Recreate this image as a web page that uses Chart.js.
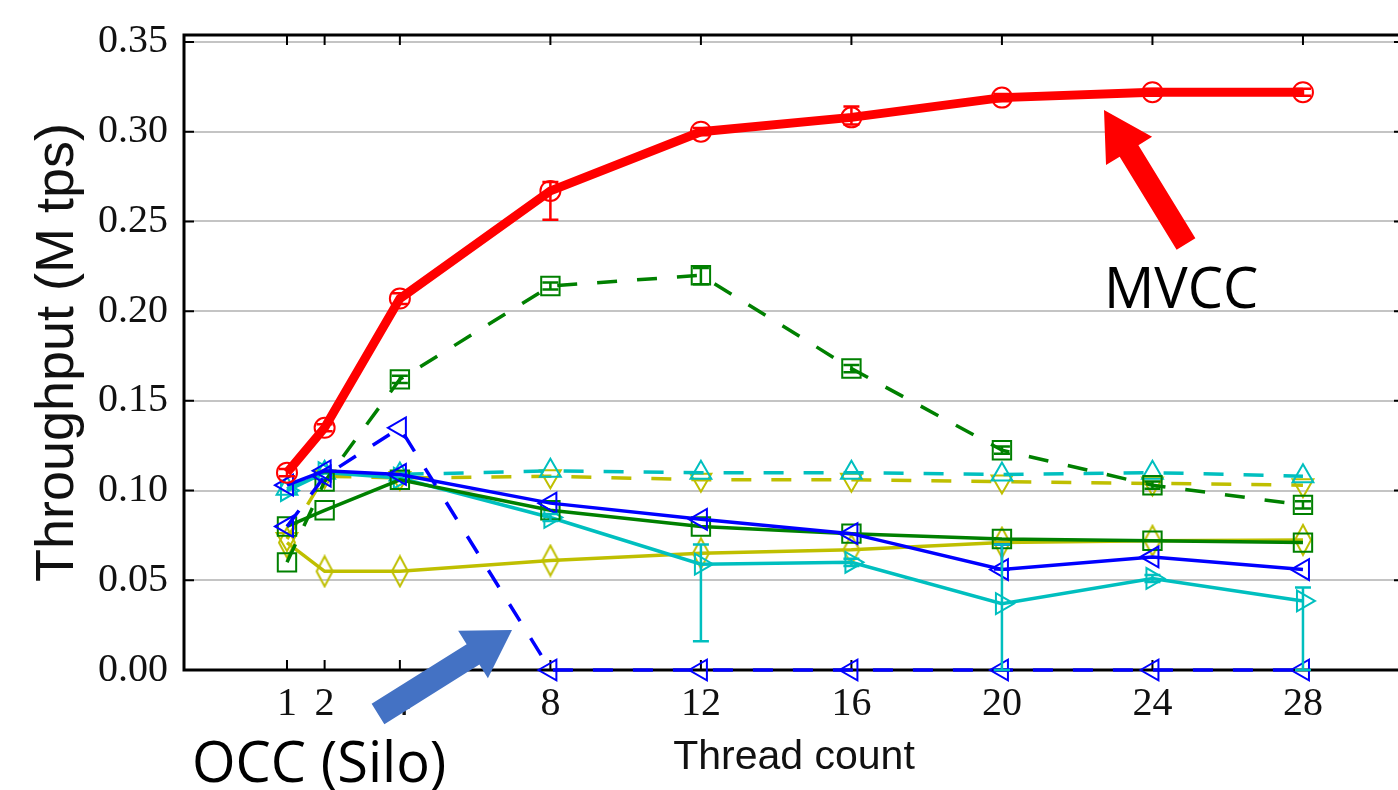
<!DOCTYPE html>
<html>
<head>
<meta charset="utf-8">
<script src="https://cdn.jsdelivr.net/npm/chart.js@4.4.1/dist/chart.umd.min.js"></script>
<style>
  html, body { margin: 0; padding: 0; background: #fff; overflow: hidden; }
  #wrap { width: 1404px; height: 790px; }
</style>
</head>
<body>
<div id="wrap"><canvas id="myChart" width="1404" height="790"></canvas></div>
<script>
// thread counts on the x axis
const threads = [1, 2, 4, 8, 12, 16, 20, 24, 28];
const xTickValues = [1, 2, 4, 8, 12, 16, 20, 24, 28];
const yTickValues = [0, 0.05, 0.10, 0.15, 0.20, 0.25, 0.30, 0.35];

// throughput, M tps
const mvcc        = [0.110, 0.135, 0.207, 0.267, 0.300, 0.308, 0.319, 0.322, 0.322];
const mvccErrLo   = [0.002, 0.002, 0.003, 0.016, 0.002, 0.004, 0.002, 0.002, 0.002];
const mvccErrHi   = [0.002, 0.002, 0.003, 0.005, 0.002, 0.006, 0.002, 0.002, 0.002];
const greenDash   = [0.060, 0.105, 0.162, 0.214, 0.220, 0.168, 0.1225, 0.103, 0.092];
const greenDashLo = [0, 0, 0.002, 0.002, 0.005, 0.002, 0.002, 0.002, 0.002];
const greenDashHi = [0, 0, 0.002, 0.002, 0.004, 0.002, 0.002, 0.002, 0.002];
const greenSolid  = [0.080, 0.089, 0.106, 0.089, 0.080, 0.076, 0.073, 0.072, 0.071];
const blueDash    = [0.080, 0.108, 0.135, 0, 0, 0, 0, 0, 0];
const blueSolid   = [0.103, 0.111, 0.109, 0.093, 0.084, 0.076, 0.056, 0.063, 0.056];
const blueSolidLo = [0, 0, 0, 0, 0, 0, 0, 0, 0];
const blueSolidHi = [0, 0, 0, 0, 0, 0, 0.014, 0, 0];
const cyanDash    = [0.101, 0.110, 0.109, 0.111, 0.110, 0.110, 0.109, 0.110, 0.108];
const cyanSolid   = [0.100, 0.110, 0.107, 0.085, 0.059, 0.060, 0.037, 0.051, 0.0385];
const cyanSolidLo = [0, 0, 0, 0.002, 0.043, 0.002, 0.037, 0.002, 0.0385];
const cyanSolidHi = [0, 0, 0, 0.002, 0.011, 0.002, 0.033, 0.002, 0.0075];
const yellowDash  = [0.073, 0.108, 0.107, 0.108, 0.106, 0.106, 0.105, 0.104, 0.103];
const yellowSolid = [0.071, 0.055, 0.055, 0.061, 0.065, 0.067, 0.071, 0.072, 0.0725];

const RED = '#ff0000', GREEN = '#008000', BLUE = '#0000ff', CYAN = '#00bfbf', YELLOW = '#bfbf00';

// thin diamond marker (matplotlib 'd')
const thinDiamond = document.createElement('canvas');
thinDiamond.width = 20;
thinDiamond.height = 34;
(() => {
  const c = thinDiamond.getContext('2d');
  c.strokeStyle = YELLOW;
  c.lineWidth = 2;
  c.beginPath();
  c.moveTo(10, 2); c.lineTo(18, 17); c.lineTo(10, 32); c.lineTo(2, 17);
  c.closePath();
  c.stroke();
})();

const pts = (ys) => threads.map((x, i) => ({ x: x, y: ys[i] }));

const series = (values, color, opts) => Object.assign({
  data: pts(values),
  borderColor: color,
  backgroundColor: 'transparent',
  pointBorderColor: color,
  pointBackgroundColor: 'transparent',
  pointBorderWidth: 2,
  borderWidth: 3.5,
  tension: 0,
  clip: false
}, opts);

const datasets = [
  series(mvcc, RED, { borderWidth: 9, pointStyle: 'circle', pointRadius: 10, order: 0,
    errLo: mvccErrLo, errHi: mvccErrHi }),
  series(greenDash, GREEN, { borderDash: [20, 20], pointStyle: 'rect', pointRadius: 13, order: 3,
    errLo: greenDashLo, errHi: greenDashHi }),
  series(greenSolid, GREEN, { pointStyle: 'rect', pointRadius: 13, order: 4 }),
  series(blueDash, BLUE, { borderDash: [20, 20], pointStyle: 'triangle', pointRotation: -90, pointRadius: 12, order: 1 }),
  series(blueSolid, BLUE, { pointStyle: 'triangle', pointRotation: -90, pointRadius: 12, order: 2,
    errLo: blueSolidLo, errHi: blueSolidHi }),
  series(cyanDash, CYAN, { borderDash: [20, 20], pointStyle: 'triangle', pointRadius: 12, order: 5 }),
  series(cyanSolid, CYAN, { pointStyle: 'triangle', pointRotation: 90, pointRadius: 12, order: 6,
    errLo: cyanSolidLo, errHi: cyanSolidHi }),
  series(yellowDash, YELLOW, { borderDash: [20, 20], pointStyle: 'triangle', pointRotation: 180, pointRadius: 12, order: 7 }),
  series(yellowSolid, YELLOW, { pointStyle: thinDiamond, pointRadius: 12, order: 8 })
];

// frame, inward ticks, error bars and the two call-outs
const decorations = {
  id: 'decorations',
  beforeDatasetsDraw(chart) {
    const { ctx, chartArea: a, scales } = chart;
    ctx.save();
    ctx.strokeStyle = '#000';
    ctx.lineWidth = 2;
    ctx.beginPath();
    xTickValues.forEach((v) => {
      const px = scales.x.getPixelForValue(v);
      ctx.moveTo(px, a.bottom); ctx.lineTo(px, a.bottom - 10);
      ctx.moveTo(px, a.top); ctx.lineTo(px, a.top + 10);
    });
    yTickValues.forEach((v) => {
      const py = scales.y.getPixelForValue(v);
      ctx.moveTo(a.left, py); ctx.lineTo(a.left + 10, py);
      ctx.moveTo(a.right, py); ctx.lineTo(a.right - 10, py);
    });
    ctx.stroke();
    ctx.lineWidth = 3;
    ctx.strokeRect(a.left, a.top, a.right - a.left, a.bottom - a.top);
    ctx.restore();
  },
  afterDatasetsDraw(chart) {
    const { ctx, scales } = chart;
    ctx.save();
    chart.data.datasets.forEach((ds) => {
      if (!ds.errLo) return;
      ctx.strokeStyle = ds.borderColor;
      ctx.lineWidth = 2.5;
      ds.data.forEach((p, i) => {
        const lo = ds.errLo[i], hi = ds.errHi[i];
        if (!lo && !hi) return;
        const px = scales.x.getPixelForValue(p.x);
        const y1 = scales.y.getPixelForValue(p.y - lo);
        const y2 = scales.y.getPixelForValue(p.y + hi);
        ctx.beginPath();
        ctx.moveTo(px, y1); ctx.lineTo(px, y2);
        ctx.moveTo(px - 8, y1); ctx.lineTo(px + 8, y1);
        ctx.moveTo(px - 8, y2); ctx.lineTo(px + 8, y2);
        ctx.stroke();
      });
    });
    ctx.restore();
  },
  afterDraw(chart) {
    const ctx = chart.ctx;
    const arrow = (x1, y1, x2, y2, shaft, head, headLen, color) => {
      const ang = Math.atan2(y2 - y1, x2 - x1);
      const len = Math.hypot(x2 - x1, y2 - y1);
      ctx.save();
      ctx.translate(x1, y1);
      ctx.rotate(ang);
      ctx.fillStyle = color;
      ctx.beginPath();
      ctx.moveTo(0, -shaft / 2);
      ctx.lineTo(len - headLen, -shaft / 2);
      ctx.lineTo(len - headLen, -head / 2);
      ctx.lineTo(len, 0);
      ctx.lineTo(len - headLen, head / 2);
      ctx.lineTo(len - headLen, shaft / 2);
      ctx.lineTo(0, shaft / 2);
      ctx.closePath();
      ctx.fill();
      ctx.restore();
    };
    arrow(1186, 244, 1104, 110, 22, 54, 48, RED);
    arrow(378, 714, 512, 630, 24, 56, 46, '#4472c4');
    ctx.save();
    ctx.fillStyle = '#000';
    ctx.font = '56px "Open Sans"';
    ctx.textBaseline = 'alphabetic';
    ctx.fillText('MVCC', 1104, 308);
    ctx.fillText('OCC (Silo)', 192, 782);
    ctx.restore();
  }
};

const ctx = document.getElementById('myChart').getContext('2d');
const chart = new Chart(ctx, {
  type: 'line',
  data: { datasets: datasets },
  options: {
    responsive: false,
    animation: false,
    layout: { autoPadding: false, padding: { top: 35, left: 0, right: 0, bottom: 0 } },
    plugins: { legend: { display: false }, tooltip: { enabled: false } },
    scales: {
      x: {
        type: 'linear',
        min: -1.737,
        max: 30.685,
        afterBuildTicks: (scale) => { scale.ticks = xTickValues.map((v) => ({ value: v })); },
        afterFit: (scale) => {
          scale.height = 120;
          scale.paddingLeft = 0;
          scale.paddingRight = 0;
        },
        grid: { display: false, drawTicks: false },
        border: { display: false },
        ticks: {
          padding: 10,
          color: '#111',
          font: { family: '"Liberation Serif"', size: 40 },
          maxRotation: 0,
          autoSkip: false,
          callback: (v) => String(v)
        },
        title: {
          display: true,
          text: 'Thread count',
          color: '#111',
          font: { family: '"Liberation Sans"', size: 41 },
          padding: { top: 0, bottom: 8 }
        }
      },
      y: {
        min: 0,
        max: 0.3539,
        afterBuildTicks: (scale) => { scale.ticks = yTickValues.map((v) => ({ value: v })); },
        afterFit: (scale) => {
          scale.width = 184;
          scale.paddingTop = 0;
          scale.paddingBottom = 0;
        },
        grid: { color: '#c4c4c4', lineWidth: 2, drawTicks: false },
        border: { display: false },
        ticks: {
          padding: 16,
          color: '#111',
          font: { family: '"Liberation Serif"', size: 40 },
          callback: (v) => v.toFixed(2)
        },
        title: {
          display: true,
          text: 'Throughput (M tps)',
          color: '#111',
          font: { family: '"Liberation Sans"', size: 54 },
          padding: { top: 26, bottom: 0 }
        }
      }
    }
  },
  plugins: [decorations]
});
</script>
</body>
</html>
